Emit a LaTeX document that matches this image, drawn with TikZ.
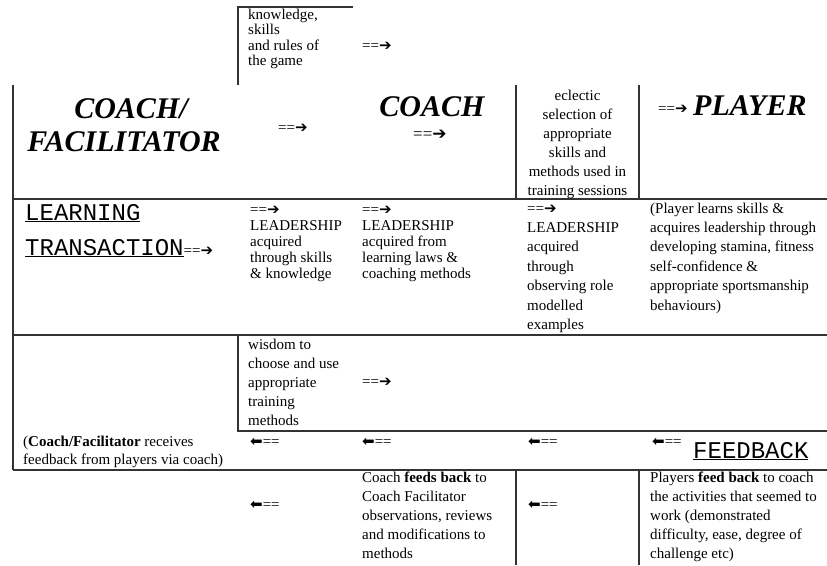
\documentclass[tikz,border=0pt]{standalone}
\usepackage{fontspec}
\setmainfont{Liberation Serif}
\setmonofont{Liberation Mono}
\newfontfamily\arrowfont{DejaVu Sans}
\newcommand{\goR}{{\arrowfont\char"2794}}
\newcommand{\goL}{{\arrowfont\char"2B05}}

\begin{document}
\begin{tikzpicture}[x=1pt,y=-1pt,
  rule/.style={line width=1.1pt,black!80},
  small/.style={font=\fontsize{15}{19}\selectfont,anchor=base west,align=left,inner sep=0pt},
  big/.style={font=\fontsize{30}{33}\selectfont\bfseries\itshape,anchor=base,align=center,inner sep=0pt},
  title/.style={font=\fontsize{24}{35}\selectfont\ttfamily,anchor=base west,align=left,inner sep=0pt}]
\useasboundingbox (0,0) rectangle (827,565);
\draw[rule] (238,85) -- (238,7) -- (353,7);
\draw[rule] (13,85) -- (13,470);
\draw[rule] (516,85) -- (516,199) (639,85) -- (639,199);
\draw[rule] (13,199) -- (827,199) (13,335) -- (827,335) (13,470) -- (827,470);
\draw[rule] (238,335) -- (238,431) -- (827,431);
\draw[rule] (516,470) -- (516,565) (639,470) -- (639,565);

\node (rules) at (248,65.5) [small,font=\fontsize{15}{15.5}\selectfont] {knowledge,\\skills\\and rules of\\the game};
\node (rulesgo) at (362,50) [small] {==\goR};

\node (coachfac) at (124,151) [big] {\hspace*{14pt}COACH/\\FACILITATOR};
\node (cfgo) at (278,132) [small] {==\goR};
\node (coach) at (432,116) [big] {COACH};
\node (coachgo) at (413,139) [small,font=\fontsize{17}{19}\selectfont] {==\goR};
\node (eclectic) at (577.5,195) [small,anchor=base,align=center] {eclectic\\selection of\\appropriate\\skills and\\methods used in\\training sessions};
\node (playergo) at (658,113) [small] {==\goR};
\node (player) at (693,115) [big,anchor=base west] {PLAYER};

\node (learn) at (25,255) [title] {\underline{LEARNING}\\\underline{TRANSACTION}{\rmfamily\fontsize{15}{19}\selectfont==\goR}};
\node (lead1) at (250,278) [small,font=\fontsize{15}{16}\selectfont] {==\goR\\LEADERSHIP\\acquired\\through skills\\\& knowledge};
\node (lead2) at (362,278) [small,font=\fontsize{15}{16}\selectfont] {==\goR\\LEADERSHIP\\acquired from\\learning laws \&\\coaching methods};
\node (lead3) at (527,329.4) [small,font=\fontsize{15}{19.4}\selectfont] {==\goR\\LEADERSHIP\\acquired\\through\\observing role\\modelled\\examples};
\node (plearns) at (650,310) [small,font=\fontsize{15}{19.4}\selectfont] {(Player learns skills \&\\acquires leadership through\\developing stamina, fitness\\self-confidence \&\\appropriate sportsmanship\\behaviours)};

\node (wisdom) at (248,425) [small] {wisdom to\\choose and use\\appropriate\\training\\methods};
\node (wisdomgo) at (362,386) [small] {==\goR};
\node (cfback) at (23,464) [small,font=\fontsize{15}{18}\selectfont] {(\textbf{Coach/Facilitator} receives\\feedback from players via coach)};
\node (back1) at (250,446) [small] {\goL==};
\node (back2) at (362,446) [small] {\goL==};
\node (back3) at (528,446) [small] {\goL==};
\node (back4) at (652,446) [small] {\goL==};
\node (feedback) at (693,458) [title] {\underline{FEEDBACK}};

\node (back5) at (250,509) [small] {\goL==};
\node (cfeeds) at (362,558) [small] {Coach \textbf{feeds back} to\\Coach Facilitator\\observations, reviews\\and modifications to\\methods};
\node (back6) at (528,509) [small] {\goL==};
\node (pfeed) at (650,558) [small] {Players \textbf{feed back} to coach\\the activities that seemed to\\work (demonstrated\\difficulty, ease, degree of\\challenge etc)};
\end{tikzpicture}
\end{document}
